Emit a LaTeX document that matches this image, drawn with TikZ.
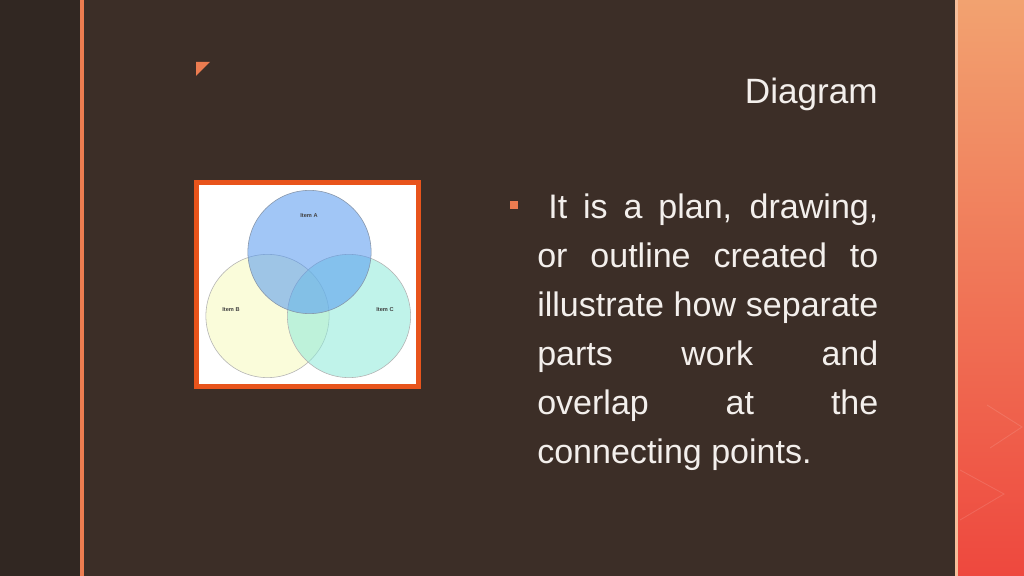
\documentclass[tikz,border=0pt]{standalone}
\usepackage{fontspec}
\setmainfont{Liberation Sans}
\definecolor{slideBrown}{RGB}{60,46,39}
\definecolor{leftStrip}{RGB}{49,39,34}
\definecolor{accentOrange}{RGB}{236,124,80}
\definecolor{frameOrange}{RGB}{232,84,28}
\definecolor{panelTop}{RGB}{242,162,112}
\definecolor{panelBottom}{RGB}{238,72,62}
\definecolor{slideText}{RGB}{243,239,236}
\definecolor{itemABlue}{RGB}{84,152,240}
\definecolor{itemBYellow}{RGB}{246,250,188}
\definecolor{itemCCyan}{RGB}{142,234,218}
\begin{document}
\begin{tikzpicture}[x=0.025cm,y=-0.025cm]
\tikzstyle{vennCircle}=[circle,minimum size=3.08cm,inner sep=0pt,draw=black!30,line width=0.4pt,fill opacity=0.55]
\tikzstyle{itemLabel}=[font=\fontsize{4}{5}\selectfont\bfseries,text=black!75,inner sep=0pt]
\tikzstyle{slideFont}=[text=slideText,inner sep=0pt]

%Background
\useasboundingbox (0,0) rectangle (1024,576);
\fill[leftStrip] (0,0) rectangle (81,576);
\fill[slideBrown] (81,0) rectangle (955,576);
\shade[top color=panelTop, bottom color=panelBottom] (955,0) rectangle (1024,576);
\fill[accentOrange] (80,0) rectangle (84,576);
\fill[panelTop!70!white] (955,0) rectangle (958,576);
\draw[white, opacity=0.12, line width=0.6pt] (987,405) -- (1022,427) -- (990,448);
\draw[white, opacity=0.12, line width=0.6pt] (960,470) -- (1004,494) -- (960,520);

%Title
\fill[accentOrange] (196,62) -- (210,62) -- (196,76) -- cycle;
\node[slideFont, anchor=base east, font=\fontsize{25}{30}\selectfont] (title) at (878,104) {Diagram};

%Bullet text
\fill[accentOrange] (510,201) rectangle (518,209);
\node[slideFont, anchor=north west, text width=8.525cm, align=justify,
      font=\fontsize{24.2}{34.9}\selectfont] (body) at (537,193.5)
  {\hspace*{0.275cm}It is a plan, drawing,\linebreak
   or outline created to\linebreak
   illustrate how separate\linebreak
   parts work and\linebreak
   overlap at the\linebreak
   connecting points.};

%Venn frame
\draw[frameOrange, fill=white, line width=0.125cm] (196.5,182.5) rectangle (418.5,386.5);

%Venn circles
\node[vennCircle, fill=itemBYellow] (circleB) at (267.5,316) {};
\node[vennCircle, fill=itemCCyan]   (circleC) at (349,316) {};
\node[vennCircle, fill=itemABlue, draw=itemABlue!40!black!55] (circleA) at (309.5,252) {};

%Venn labels
\node[itemLabel] (labelA) at (309,216) {Item A};
\node[itemLabel] (labelB) at (231,310) {Item B};
\node[itemLabel] (labelC) at (385,310) {Item C};

\end{tikzpicture}
\end{document}
